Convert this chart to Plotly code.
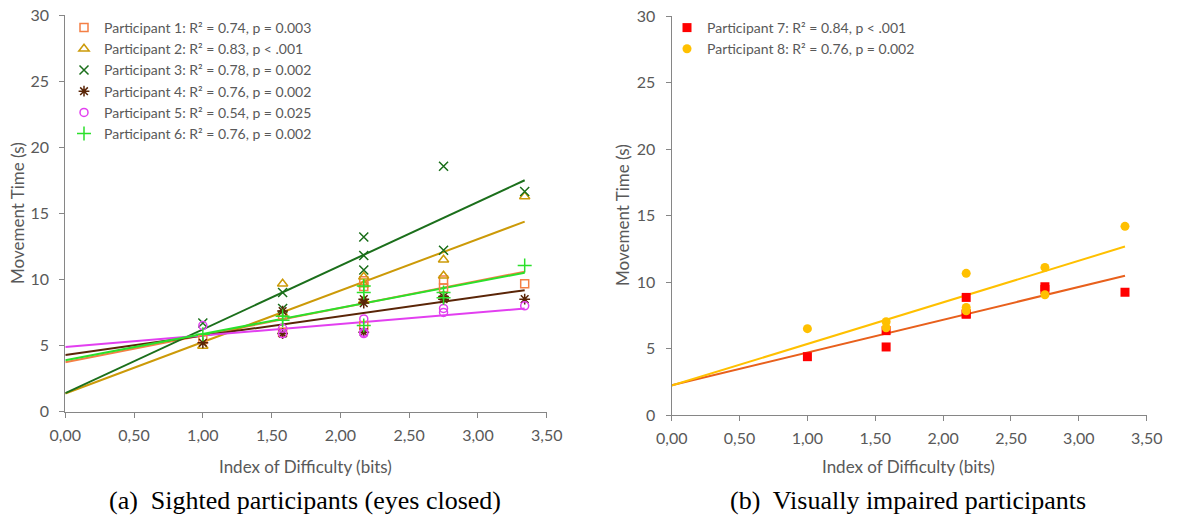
import numpy as np
import plotly.graph_objects as go

# ---------------- data ----------------
id_levels = [1.00, 1.58, 1.58, 2.17, 2.17, 2.17, 2.75, 2.75, 3.34]

p1 = [5.45, 7.30, 6.00, 9.90, 9.45, 6.50, 9.95, 9.35, 9.66]
p2 = [4.95, 9.66, 7.40, 10.20, 9.60, 8.40, 11.48, 10.27, 16.27]
p3 = [6.70, 9.00, 7.80, 13.20, 11.80, 10.70, 18.55, 12.20, 16.65]
p4 = [5.20, 7.60, 5.90, 8.50, 8.20, 6.00, 8.70, 8.50, 8.50]
p5 = [6.50, 6.30, 5.90, 7.00, 6.00, 5.90, 7.80, 7.50, 8.00]
p6 = [5.85, 7.20, 6.90, 9.50, 9.00, 6.50, 9.00, 8.60, 11.05]
p7 = [4.39, 6.35, 5.12, 8.85, 7.60, 7.60, 9.66, 9.45, 9.23]
p8 = [6.50, 7.02, 6.57, 10.66, 8.10, 7.85, 11.11, 9.05, 14.20]

labels_left = [
    "Participant 1: R² = 0.74, p = 0.003",
    "Participant 2: R² = 0.83, p < .001",
    "Participant 3: R² = 0.78, p = 0.002",
    "Participant 4: R² = 0.76, p = 0.002",
    "Participant 5: R² = 0.54, p = 0.025",
    "Participant 6: R² = 0.76, p = 0.002",
]
labels_right = [
    "Participant 7: R² = 0.84, p < .001",
    "Participant 8: R² = 0.76, p = 0.002",
]

x_ticks = [0.0, 0.5, 1.0, 1.5, 2.0, 2.5, 3.0, 3.5]
y_ticks = [0, 5, 10, 15, 20, 25, 30]

# ---------------- styles ----------------
left_series = [p1, p2, p3, p4, p5, p6]
left_symbols = ["square-open", "triangle-up-open", "x-thin-open", "asterisk-open",
                "circle-open", "cross-thin-open"]
left_colors = ["#F47F45", "#CC9A08", "#1B6F1B", "#5A2507", "#E23FF0", "#2BE02B"]
left_sizes = [8, 9, 9, 9, 8, 10]

right_series = [p7, p8]
right_symbols = ["square", "circle"]
right_mcolors = ["#FF0000", "#FFC000"]
right_lcolors = ["#E8601C", "#FFC000"]

GRAY = "#595959"
FONT = "Lato"

fig = go.Figure()


def add_trend(xs, ys, color, xa, ya):
    slope, intercept = np.polyfit(xs, ys, 1)
    xl = np.array([0.0, max(xs)])
    fig.add_trace(go.Scatter(x=xl, y=intercept + slope * xl, mode="lines",
                             line=dict(color=color, width=2), showlegend=False,
                             hoverinfo="skip", xaxis=xa, yaxis=ya))


for ys, c in zip(left_series, left_colors):
    add_trend(id_levels, ys, c, "x", "y")
for ys, c in zip(right_series, right_lcolors):
    add_trend(id_levels, ys, c, "x2", "y2")

for ys, sym, c, s, lab in zip(left_series, left_symbols, left_colors, left_sizes, labels_left):
    fig.add_trace(go.Scatter(x=id_levels, y=ys, mode="markers", name=lab,
                             marker=dict(symbol=sym, size=s, color=c,
                                         line=dict(color=c, width=1.5)),
                             xaxis="x", yaxis="y", legend="legend"))

for ys, sym, c, lab in zip(right_series, right_symbols, right_mcolors, labels_right):
    fig.add_trace(go.Scatter(x=id_levels, y=ys, mode="markers", name=lab,
                             marker=dict(symbol=sym, size=9, color=c, line=dict(width=0)),
                             xaxis="x2", yaxis="y2", legend="legend2"))

W, H = 1177, 518


def px(x):
    return x / W


def py(y):
    return 1 - y / H


axis_common = dict(showgrid=False, zeroline=False, showline=True, linecolor="#868686",
                   linewidth=1.3, ticks="outside", ticklen=5, tickcolor="#868686",
                   automargin=False, ticklabeloverflow="allow",
                   tickfont=dict(family=FONT, size=16, color=GRAY))

fig.update_layout(
    width=W, height=H,
    margin=dict(l=0, r=0, t=0, b=0, autoexpand=False),
    paper_bgcolor="white", plot_bgcolor="white",
    separators=",.",
    xaxis=dict(domain=[px(65.3), px(546.7)], range=[0, 3.5], tickvals=x_ticks,
               tickformat=".2f", anchor="y", ticklabelstandoff=4, **axis_common),
    yaxis=dict(domain=[py(411.5), py(15)], range=[0, 30], tickvals=y_ticks,
               anchor="x", ticklabelstandoff=7, **axis_common),
    xaxis2=dict(domain=[px(671.7), px(1146.7)], range=[0, 3.5], tickvals=x_ticks,
                tickformat=".2f", anchor="y2", ticklabelstandoff=4, **axis_common),
    yaxis2=dict(domain=[py(415), py(16.4)], range=[0, 30], tickvals=y_ticks,
                anchor="x2", ticklabelstandoff=7, **axis_common),
    legend=dict(x=px(64), y=py(12), xanchor="left", yanchor="top",
                bgcolor="rgba(0,0,0,0)", tracegroupgap=0, itemwidth=30,
                font=dict(family=FONT, size=14, color=GRAY)),
    legend2=dict(x=px(667), y=py(12), xanchor="left", yanchor="top",
                 bgcolor="rgba(0,0,0,0)", tracegroupgap=0, itemwidth=30,
                 font=dict(family=FONT, size=14, color=GRAY)),
)

annots = [
    dict(text="Movement Time (s)", x=px(18), y=py(213), textangle=-90),
    dict(text="Movement Time (s)", x=px(623), y=py(215), textangle=-90),
    dict(text="Index of Difficulty (bits)", x=px(305), y=py(466)),
    dict(text="Index of Difficulty (bits)", x=px(908), y=py(466)),
]
for a in annots:
    fig.add_annotation(xref="paper", yref="paper", showarrow=False,
                       xanchor="center", yanchor="middle",
                       font=dict(family=FONT, size=17, color=GRAY), **a)

for txt, cx in [("(a)  Sighted participants (eyes closed)", 305),
                ("(b)  Visually impaired participants", 908)]:
    fig.add_annotation(xref="paper", yref="paper", showarrow=False,
                       x=px(cx), y=py(500), xanchor="center", yanchor="middle",
                       text=txt, font=dict(family="Liberation Serif", size=26, color="black"))

# remove the default 8px page margin so the figure fills the window exactly
fig.write_html("out.html", config={"displayModeBar": False},
               post_script="document.body.style.margin='0';document.body.style.overflow='hidden';")
